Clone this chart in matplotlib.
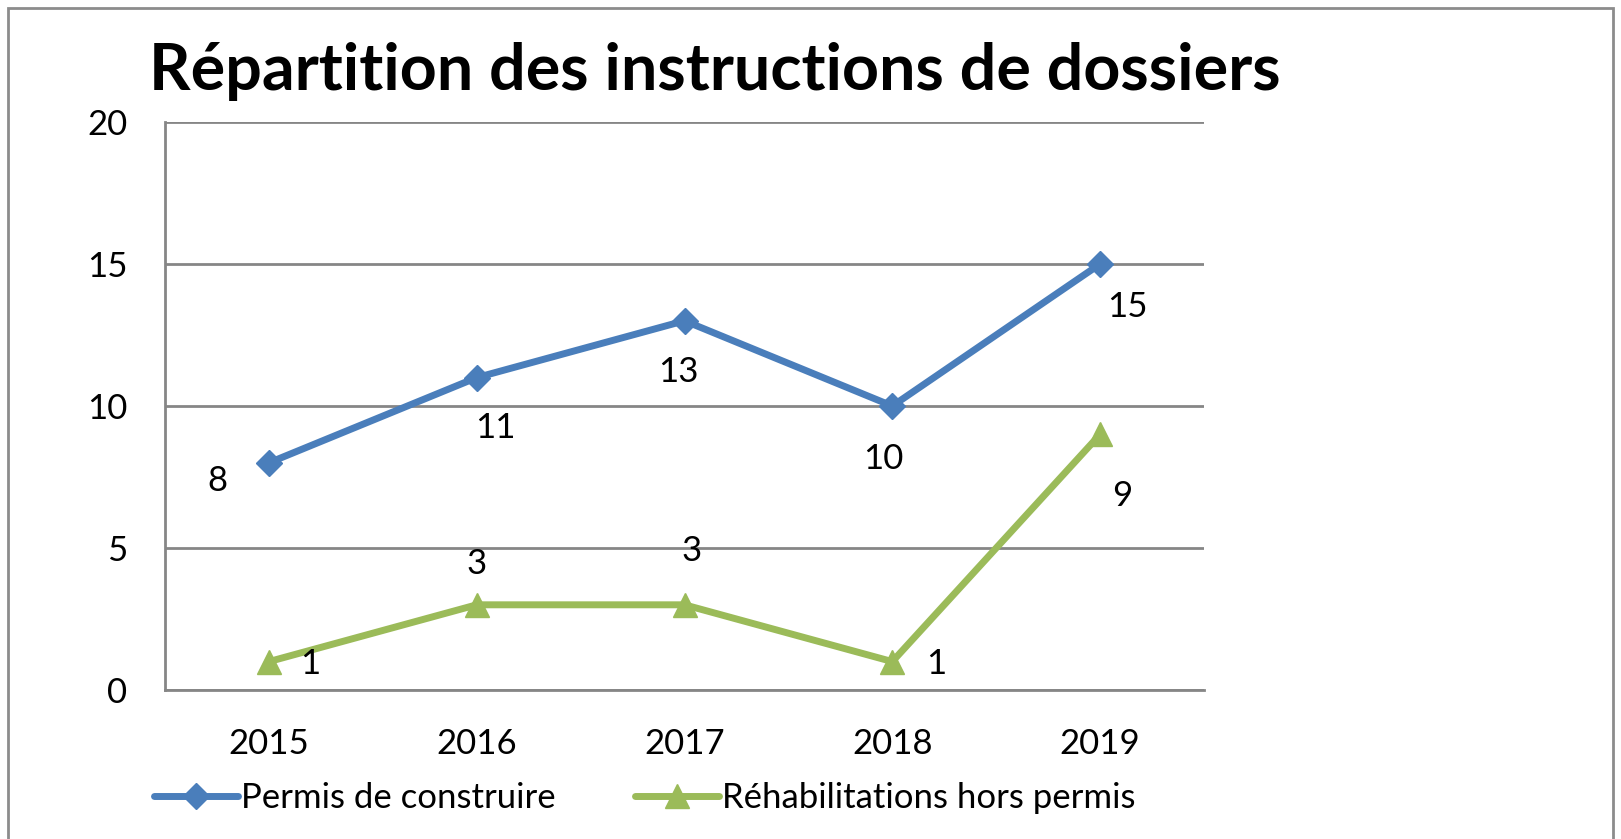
import matplotlib
matplotlib.use("Agg")
import matplotlib.pyplot as plt
from matplotlib.patches import Rectangle

years = ["2015", "2016", "2017", "2018", "2019"]
permis = [8, 11, 13, 10, 15]
rehab = [1, 3, 3, 1, 9]
yticks = [0, 5, 10, 15, 20]

# label offsets in pixels (dx, dy) relative to each point
permis_offsets = [(-52, -18), (19, -50), (-6, -51), (-9, -53), (27, -43)]
rehab_offsets = [(41, -2), (0, 41), (7, 54), (44, -2), (22, -62)]

BLUE = "#4A7EBB"
GREEN = "#9BBB59"
GRID = "#868686"
FS = 25

plt.rcParams["font.family"] = ["Lato", "DejaVu Sans"]

fig = plt.figure(figsize=(16.21, 8.39), dpi=100)
W, H = 1621, 839
ax = fig.add_axes([165 / W, 1 - 690 / H, (1204 - 165) / W, (690 - 122) / H])

x = list(range(len(years)))
ax.plot(x, permis, color=BLUE, lw=5, marker="D", markersize=13,
        solid_capstyle="round", label="Permis de construire", zorder=3)
ax.plot(x, rehab, color=GREEN, lw=5, marker="^", markersize=17,
        solid_capstyle="round", label="Réhabilitations hors permis", zorder=3)

for xi, v, (dx, dy) in zip(x, permis, permis_offsets):
    ax.annotate(str(v), (xi, v), xytext=(dx, dy), textcoords="offset pixels",
                ha="center", va="center", fontsize=FS, color="black")
for xi, v, (dx, dy) in zip(x, rehab, rehab_offsets):
    ax.annotate(str(v), (xi, v), xytext=(dx, dy), textcoords="offset pixels",
                ha="center", va="center", fontsize=FS, color="black")

ax.set_xlim(-0.5, len(years) - 0.5)
ax.set_ylim(0, 20)
ax.set_yticks(yticks)
ax.set_xticks(x)
ax.set_xticklabels(years)
ax.tick_params(axis="both", length=0, labelsize=FS, pad=27)
ax.yaxis.grid(True, color=GRID, lw=2)
ax.set_axisbelow(True)
for s in ["top", "right"]:
    ax.spines[s].set_visible(False)
for s in ["left", "bottom"]:
    ax.spines[s].set_color(GRID)
    ax.spines[s].set_linewidth(2)

fig.text(715 / W, 1 - 90 / H, "Répartition des instructions de dossiers",
         ha="center", va="baseline", fontsize=46.5, fontweight="bold")

leg = fig.legend(loc="center", bbox_to_anchor=(645 / W, 1 - 798 / H), ncol=2,
                 frameon=False, fontsize=FS, handlelength=2.4,
                 handletextpad=0.1, columnspacing=2.3, borderpad=0)

fig.patches.append(Rectangle((8 / W, -0.02), (1613 - 8) / W, 1 - 8 / H + 0.02,
                             transform=fig.transFigure, fill=False,
                             edgecolor="#8c8c8c", lw=2))

fig.savefig("out.png", dpi=100)
